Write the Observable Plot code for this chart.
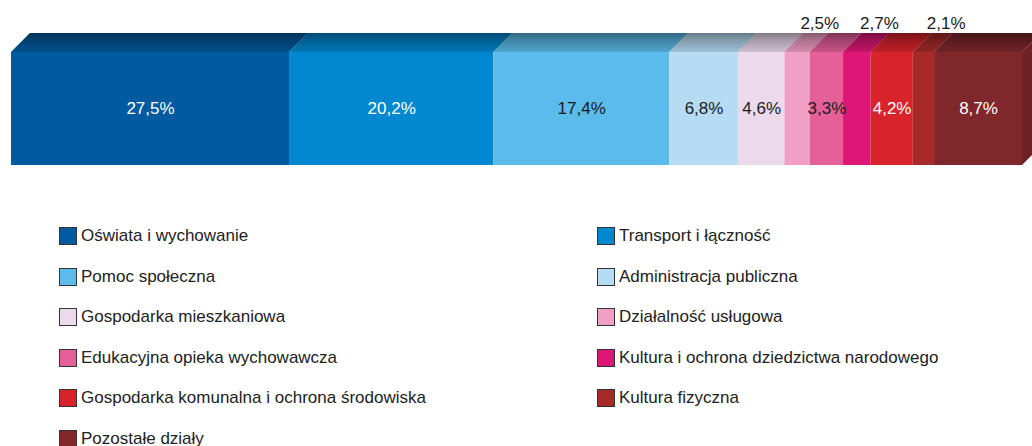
<!DOCTYPE html>
<html>
<head>
<meta charset="utf-8">
<script src="https://cdn.jsdelivr.net/npm/d3@7"></script>
<script src="https://cdn.jsdelivr.net/npm/@observablehq/plot@0.6"></script>
<style>
  html, body { margin: 0; padding: 0; background: #fff; }
  body { width: 1032px; height: 446px; overflow: hidden; font-family: "Liberation Sans", Arial, sans-serif; }
  #legend { position: relative; display: grid; grid-template-columns: 538px 1fr; grid-auto-rows: 40.6px;
            margin-left: 59px; margin-top: 37px; }
  .item { display: flex; align-items: flex-start; font-size: 17px; color: #222; line-height: 18px; white-space: nowrap; }
  .sw { width: 16px; height: 16px; border: 1px solid #333; margin-right: 4px; flex: none; }
</style>
</head>
<body>
<div id="chart"></div>
<div id="legend"></div>
<script>
// ---- data ----
const categories = [
  "Oświata i wychowanie",
  "Transport i łączność",
  "Pomoc społeczna",
  "Administracja publiczna",
  "Gospodarka mieszkaniowa",
  "Działalność usługowa",
  "Edukacyjna opieka wychowawcza",
  "Kultura i ochrona dziedzictwa narodowego",
  "Gospodarka komunalna i ochrona środowiska",
  "Kultura fizyczna",
  "Pozostałe działy"
];
const values = [27.5, 20.2, 17.4, 6.8, 4.6, 2.5, 3.3, 2.7, 4.2, 2.1, 8.7];
const colors = ["#005a9f", "#0087cf", "#5bbbea", "#b6dcf4", "#ecdaec", "#f29fc5",
                "#e55f98", "#dd1677", "#d9232a", "#a62a27", "#7f272b"];

// ---- layout constants ----
const DEPTH_X = 1.88;   // top-face shift in x units
const DEPTH_Y = 0.168;  // top-face height in y units

// ---- derived table ----
let acc = 0;
const rows = values.map((v, i) => {
  const r = {cat: categories[i], value: v, x1: acc, x2: acc + v, label: v.toFixed(1).replace(".", ",") + "%"};
  acc += v;
  r.mid = (r.x1 + r.x2) / 2;
  r.dark = d3.hsl(colors[i]).l < 0.55;
  r.outside = v < 3;
  return r;
});
const topPts = rows.flatMap(r => [
  {cat: r.cat, y: 1, x1: r.x1, x2: r.x2},
  {cat: r.cat, y: 1 + DEPTH_Y, x1: r.x1 + DEPTH_X, x2: r.x2 + DEPTH_X}
]);
const last = rows[rows.length - 1];
const sidePts = [
  {cat: last.cat, x: last.x2, y1: 0, y2: 1},
  {cat: last.cat, x: last.x2 + DEPTH_X, y1: DEPTH_Y, y2: 1 + DEPTH_Y}
];

const chart = Plot.plot({
  width: 1032,
  height: 190,
  marginLeft: 0, marginRight: 0, marginTop: 0, marginBottom: 0,
  style: {fontFamily: "'Liberation Sans', Arial, sans-serif", fontSize: "17px", background: "white", overflow: "visible"},
  x: {domain: [0, 100], range: [11, 1022], axis: null},
  y: {domain: [0, 1], range: [165, 52], axis: null},
  color: {domain: categories, range: colors},
  marks: [
    Plot.areaY(sidePts, {x: "x", y1: "y1", y2: "y2", z: "cat", fill: "cat"}),
    Plot.areaY(sidePts, {x: "x", y1: "y1", y2: "y2", z: "cat", fill: "black", fillOpacity: 0.12}),
    Plot.areaX(topPts, {y: "y", x1: "x1", x2: "x2", z: "cat", fill: "cat"}),
    Plot.areaX(topPts, {y: "y", x1: "x1", x2: "x2", z: "cat", fill: "url(#topShade)"}),
    Plot.rect(rows, {x1: "x1", x2: "x2", y1: d => 0, y2: d => 1, fill: "cat"}),
    Plot.text(rows.filter(r => !r.outside && r.dark), {x: "mid", y: d => 0.5, text: "label", fill: "white", fontSize: 17}),
    Plot.text(rows.filter(r => !r.outside && !r.dark), {x: "mid", y: d => 0.5, text: "label", fill: "#1a1a1a", fontSize: 17}),
    Plot.text(rows.filter(r => r.outside), {x: d => d.mid + 2.2, y: d => 1.26, text: "label", fill: "#1a1a1a", fontSize: 17})
  ]
});

// gradient shading for the top faces
const NS = "http://www.w3.org/2000/svg";
const defs = document.createElementNS(NS, "defs");
const grad = document.createElementNS(NS, "linearGradient");
grad.setAttribute("id", "topShade");
grad.setAttribute("x1", "0"); grad.setAttribute("y1", "0");
grad.setAttribute("x2", "0"); grad.setAttribute("y2", "1");
[[0, 0.45], [0.35, 0.3], [1, 0.12]].forEach(([o, a]) => {
  const s = document.createElementNS(NS, "stop");
  s.setAttribute("offset", o);
  s.setAttribute("stop-color", "#000");
  s.setAttribute("stop-opacity", a);
  grad.appendChild(s);
});
defs.appendChild(grad);
chart.insertBefore(defs, chart.firstChild);
document.getElementById("chart").appendChild(chart);

// legend (row-wise, two columns)
const legend = document.getElementById("legend");
categories.forEach((c, i) => {
  const item = document.createElement("div");
  item.className = "item";
  const sw = document.createElement("span");
  sw.className = "sw";
  sw.style.background = colors[i];
  const t = document.createElement("span");
  t.textContent = c;
  item.appendChild(sw);
  item.appendChild(t);
  legend.appendChild(item);
});
</script>
</body>
</html>
